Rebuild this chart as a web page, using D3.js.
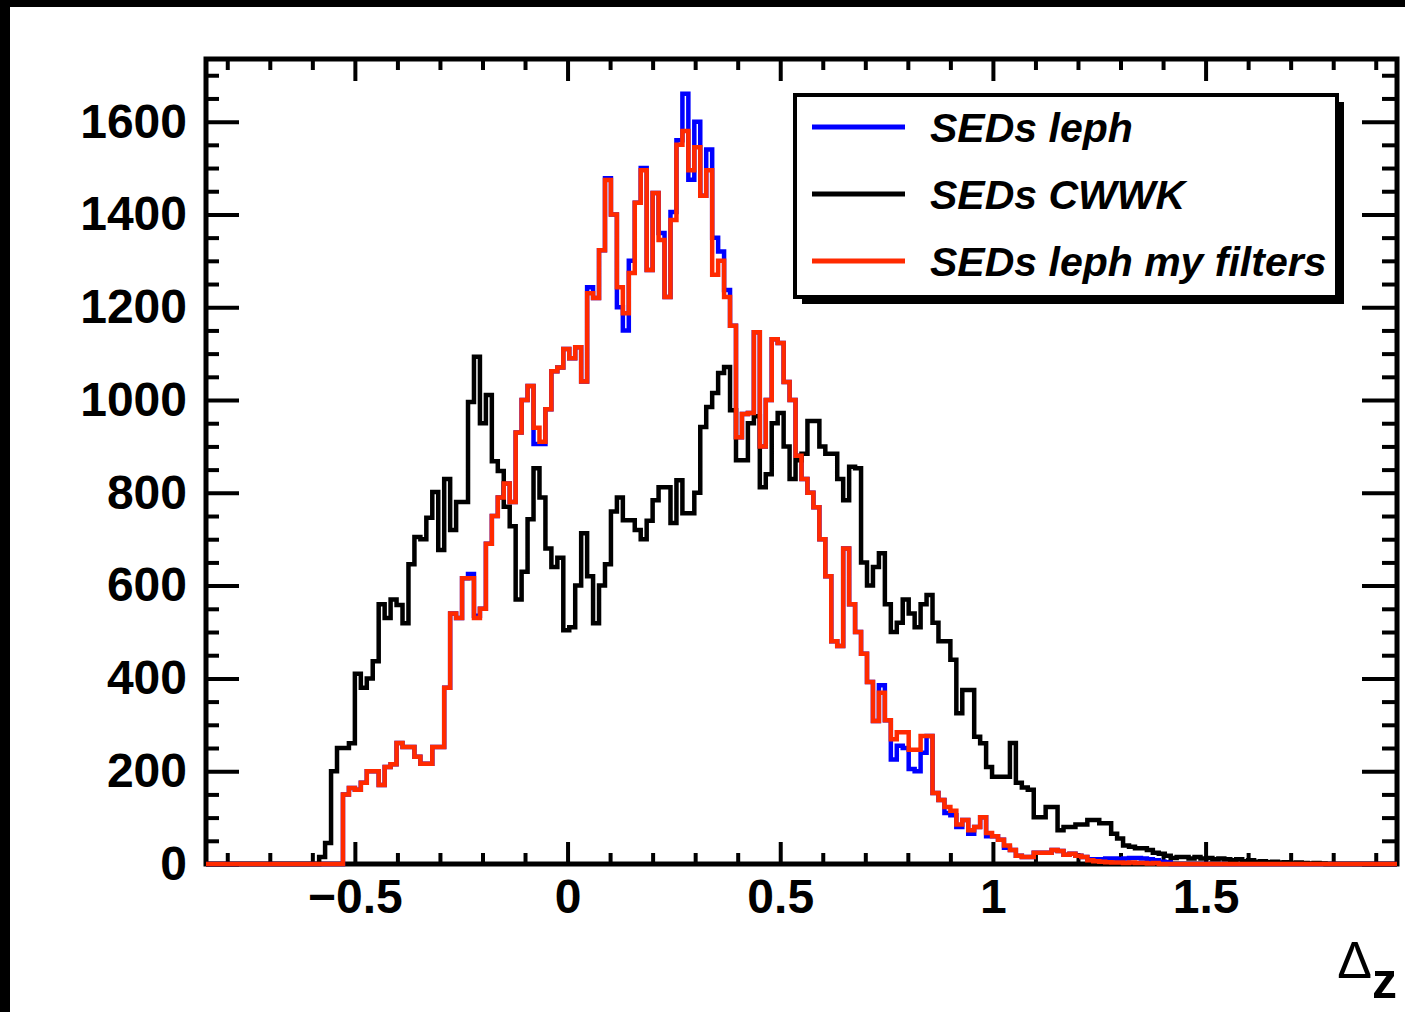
<!DOCTYPE html>
<html>
<head>
<meta charset="utf-8">
<script src="https://cdn.jsdelivr.net/npm/d3@7"></script>
<style>
  body { margin: 0; background: #fff; }
  svg { display: block; }
  .axis text { font-family: "Liberation Sans", Arial, sans-serif; font-weight: bold; font-size: 48px; fill: #000; }
  .axis line { stroke: #000; stroke-width: 4; }
  .legend text { font-family: "Liberation Sans", Arial, sans-serif; font-weight: bold; font-style: italic; font-size: 41px; fill: #000; }
</style>
</head>
<body>
<div id="chart"></div>
<script>
// histogram binning: 200 bins from -0.85 to 1.95
var xMin = -0.85, binWidth = 0.014, nBins = 200;

var seriesNames = ["SEDs leph", "SEDs CWWK", "SEDs leph my filters"];
var seriesColors = ["#0000ff", "#000000", "#ff2a00"];

// counts per bin
var lephCounts = [
  0,0,0,0,0,0,0,0,0,0, 0,0,0,0,0,0,0,0,0,0,
  0,0,0,150,164,160,175,200,200,170,
  209,215,261,252,252,231,216,216,252,252,
  380,540,530,616,625,535,550,690,750,790,
  820,780,930,1000,1030,905,905,980,1062,1070,
  1110,1090,1114,1040,1243,1220,1323,1478,1400,1200,
  1150,1300,1425,1500,1280,1446,1360,1222,1405,1560,
  1660,1475,1600,1440,1540,1350,1320,1237,1160,920,
  970,972,1146,900,1000,1131,1123,1039,1000,880,
  830,800,769,700,620,480,470,680,560,500,
  453,392,308,385,310,225,255,250,205,200,
  240,276,153,138,110,105,80,95,65,80,
  101,60,60,52,35,30,18,15,15,24,
  24,24,30,28,20,22,18,15,10,10,
  10,12,12,10,12,13,13,12,10,8,
  5,4,0,0,0,0,0,0,0,0,
  0,0,0,0,0,0,0,0,0,0, 0,0,0,0,0,0,0,0,0,0,
  0,0,0,0,0,0,0,0,0,0, 0,0,0,0,0,0,0,0,0,0
];

var cwwkCounts = [
  0,0,0,0,0,0,0,0,0,0, 0,0,0,0,0,0,0,0,0,15,
  45,200,250,250,260,410,380,400,437,560,
  530,570,558,519,646,705,700,746,802,677,
  830,720,780,780,996,1093,950,1011,868,847,
  770,728,570,630,743,853,790,680,640,660,
  504,510,600,713,620,519,600,646,760,790,
  741,741,720,700,740,784,812,812,735,827,
  756,756,800,942,985,1015,1058,1071,978,870,
  870,950,965,812,840,950,972,900,830,870,
  884,955,955,900,884,884,830,784,856,853,
  650,600,640,670,560,500,520,570,540,510,
  560,580,520,480,480,440,325,375,375,274,
  260,209,188,188,188,261,175,165,160,101,
  101,123,123,73,80,80,85,85,95,95,
  88,88,65,55,40,37,34,34,30,24,
  22,18,13,15,15,12,15,12,13,10,
  12,10,8,10,6,8,5,6,4,5,
  3,4,2,3,2,1,2,1,0,0,
  0,0,0,0,0,0,0,0,0,0
];

var myFiltersCounts = [
  0,0,0,0,0,0,0,0,0,0, 0,0,0,0,0,0,0,0,0,0,
  0,0,0,150,164,160,175,200,200,170,
  209,215,261,252,252,231,216,216,252,252,
  380,540,530,616,616,530,550,690,750,790,
  820,780,930,1000,1030,940,910,980,1062,1070,
  1110,1090,1114,1040,1230,1220,1323,1474,1400,1243,
  1187,1274,1425,1495,1280,1446,1345,1222,1388,1550,
  1580,1495,1545,1440,1495,1270,1300,1222,1160,920,
  970,972,1146,900,1000,1131,1123,1039,1000,880,
  830,800,769,700,620,480,470,680,560,500,
  453,392,308,369,310,269,284,284,246,246,
  276,276,153,138,123,115,85,95,73,80,
  101,67,60,52,40,30,18,15,15,24,
  24,24,30,28,20,22,18,15,8,6,
  5,4,3,3,2,3,2,2,1,2,
  0,0,0,0,0,0,0,0,0,0, 0,0,0,0,0,0,0,0,0,0,
  0,0,0,0,0,0,0,0,0,0, 0,0,0,0,0,0,0,0,0,0
];

var xTickValues = [-0.5, 0, 0.5, 1, 1.5];
var xTickLabels = ["\u22120.5", "0", "0.5", "1", "1.5"];
var yTickValues = [0, 200, 400, 600, 800, 1000, 1200, 1400, 1600];

// set the stage
var svgWidth = 1405;
var svgHeight = 1012;

var frame = { left: 206, right: 1397, top: 59, bottom: 864 };

var svg = d3.select("#chart")
  .append("svg")
  .attr("width", svgWidth)
  .attr("height", svgHeight);

svg.append("rect").attr("width", svgWidth).attr("height", svgHeight).attr("fill", "#fff");
// black edges of the screenshot
svg.append("rect").attr("x", 0).attr("y", 0).attr("width", svgWidth).attr("height", 7).attr("fill", "#000");
svg.append("rect").attr("x", 0).attr("y", 0).attr("width", 10).attr("height", svgHeight).attr("fill", "#000");

var xScale = d3.scaleLinear()
  .domain([xMin, xMin + binWidth * nBins])
  .range([frame.left, frame.right]);

var yScale = d3.scaleLinear()
  .domain([0, 1735])
  .range([frame.bottom, frame.top]);

// minor tick values
var xMinor = d3.range(-8, 20).map(d => d / 10).filter(d => xTickValues.indexOf(d) < 0 && d > xMin && d < 1.95);
var yMinor = d3.range(0, 1750, 50).filter(d => d % 200 !== 0);

svg.append("defs").append("clipPath").attr("id", "clip")
  .append("rect")
  .attr("x", frame.left).attr("y", frame.top - 4)
  .attr("width", frame.right - frame.left).attr("height", frame.bottom - frame.top + 7);

// axes, ticks drawn inside the frame like ROOT
function noDomain(g) { g.select(".domain").remove(); }

svg.append("g").attr("class", "axis")
  .attr("transform", `translate(0, ${frame.bottom})`)
  .call(d3.axisBottom(xScale).tickValues(xTickValues)
    .tickFormat((d, i) => xTickLabels[i]).tickSize(-22).tickPadding(15))
  .call(noDomain);
svg.append("g").attr("class", "axis")
  .attr("transform", `translate(0, ${frame.bottom})`)
  .call(d3.axisBottom(xScale).tickValues(xMinor).tickFormat("").tickSize(-11))
  .call(noDomain);
svg.append("g").attr("class", "axis")
  .attr("transform", `translate(0, ${frame.top})`)
  .call(d3.axisTop(xScale).tickValues(xTickValues).tickFormat("").tickSize(-22))
  .call(noDomain);
svg.append("g").attr("class", "axis")
  .attr("transform", `translate(0, ${frame.top})`)
  .call(d3.axisTop(xScale).tickValues(xMinor).tickFormat("").tickSize(-11))
  .call(noDomain);

svg.append("g").attr("class", "axis")
  .attr("transform", `translate(${frame.left}, 0)`)
  .call(d3.axisLeft(yScale).tickValues(yTickValues).tickFormat(d3.format("d")).tickSize(-33).tickPadding(19))
  .call(noDomain);
svg.append("g").attr("class", "axis")
  .attr("transform", `translate(${frame.left}, 0)`)
  .call(d3.axisLeft(yScale).tickValues(yMinor).tickFormat("").tickSize(-13))
  .call(noDomain);
svg.append("g").attr("class", "axis")
  .attr("transform", `translate(${frame.right}, 0)`)
  .call(d3.axisRight(yScale).tickValues(yTickValues).tickFormat("").tickSize(-35))
  .call(noDomain);
svg.append("g").attr("class", "axis")
  .attr("transform", `translate(${frame.right}, 0)`)
  .call(d3.axisRight(yScale).tickValues(yMinor).tickFormat("").tickSize(-15))
  .call(noDomain);

// frame
svg.append("rect")
  .attr("x", frame.left).attr("y", frame.top)
  .attr("width", frame.right - frame.left).attr("height", frame.bottom - frame.top)
  .attr("fill", "none").attr("stroke", "#000").attr("stroke-width", 5);

// histograms as step lines, drawn over the frame like ROOT does
var stepLine = d3.line()
  .x(d => xScale(d[0]))
  .y(d => yScale(d[1]))
  .curve(d3.curveStepAfter);

function toSteps(counts) {
  var pts = counts.map((c, i) => [xMin + i * binWidth, c]);
  pts.push([xMin + nBins * binWidth, counts[counts.length - 1]]);
  return pts;
}

var allCounts = [lephCounts, cwwkCounts, myFiltersCounts];

var histGroup = svg.append("g").attr("clip-path", "url(#clip)");
allCounts.forEach(function(counts, k) {
  histGroup.append("path")
    .datum(toSteps(counts))
    .attr("d", stepLine)
    .attr("fill", "none")
    .attr("stroke", seriesColors[k])
    .attr("stroke-width", 4.5)
    .attr("stroke-linejoin", "miter");
});

// x title
var xTitle = svg.append("text")
  .attr("x", 1397).attr("y", 978)
  .attr("text-anchor", "end")
  .style("font-family", "'Liberation Sans', Arial, sans-serif")
  .style("font-size", "52px");
xTitle.append("tspan").text("\u0394");
xTitle.append("tspan").attr("dy", 20).style("font-weight", "bold").style("font-size", "50px").text("z");

// legend
var legend = svg.append("g").attr("class", "legend");
var lx = 795, ly = 95, lw = 542, lh = 202;
legend.append("rect").attr("x", lx + 7).attr("y", ly + 7).attr("width", lw).attr("height", lh).attr("fill", "#000");
legend.append("rect").attr("x", lx).attr("y", ly).attr("width", lw).attr("height", lh)
  .attr("fill", "#fff").attr("stroke", "#000").attr("stroke-width", 4);

var rowY = [127, 194, 261];
seriesNames.forEach(function(name, k) {
  legend.append("line")
    .attr("x1", 812).attr("x2", 905)
    .attr("y1", rowY[k]).attr("y2", rowY[k])
    .attr("stroke", seriesColors[k]).attr("stroke-width", 5);
  legend.append("text")
    .attr("x", 930).attr("y", rowY[k] + 15)
    .text(name);
});
</script>
</body>
</html>
